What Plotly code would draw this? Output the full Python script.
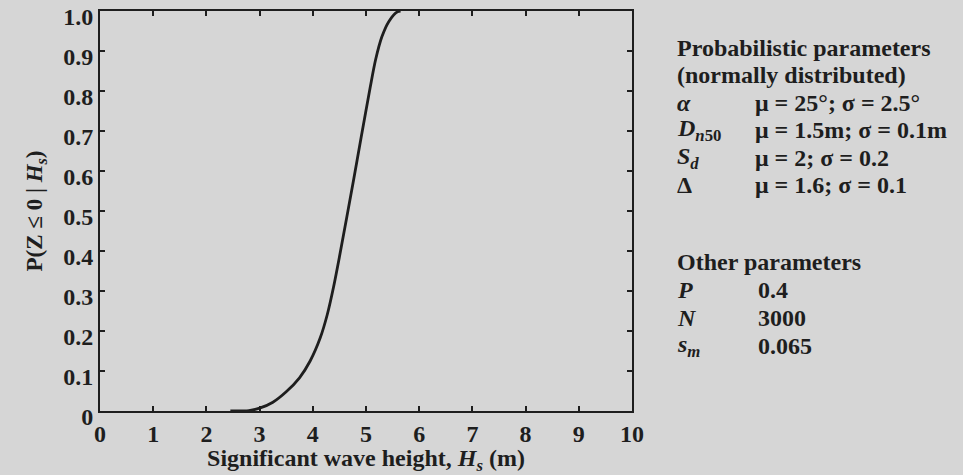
import plotly.graph_objects as go

# Fragility curve: probability of failure vs. significant wave height
wave_height_m = [2.45, 2.8, 3.0, 3.25, 3.5, 3.75, 3.95, 4.14, 4.27, 4.39, 4.5,
                 4.77, 4.91, 5.08, 5.18, 5.30, 5.43, 5.59, 5.65]
prob_failure = [0.0, 0.001, 0.007, 0.022, 0.048, 0.083, 0.125, 0.183, 0.24, 0.31, 0.385,
                0.58, 0.685, 0.81, 0.878, 0.936, 0.974, 0.998, 1.0]

x_ticks = list(range(0, 11))
y_ticks = [0, 0.1, 0.2, 0.3, 0.4, 0.5, 0.6, 0.7, 0.8, 0.9, 1.0]
y_tick_labels = ["0", "0.1", "0.2", "0.3", "0.4", "0.5", "0.6", "0.7", "0.8", "0.9", "1.0"]

# Parameter table shown beside the plot
prob_header = ["Probabilistic parameters", "(normally distributed)"]
prob_symbols = ["<i>α</i>", "<i>D</i><sub><i>n</i>50</sub>", "<i>S</i><sub><i>d</i></sub>", "Δ"]
prob_values = ["μ = 25°; σ = 2.5°", "μ = 1.5m; σ = 0.1m", "μ = 2; σ = 0.2", "μ = 1.6; σ = 0.1"]
other_header = ["Other parameters"]
other_symbols = ["<i>P</i>", "<i>N</i>", "<i>s</i><sub><i>m</i></sub>"]
other_values = ["0.4", "3000", "0.065"]

INK = "#1e1e1e"
PAPER = "#d6d6d6"
SERIF = "Liberation Serif, Times New Roman, serif"

fig = go.Figure()
fig.add_trace(go.Scatter(
    x=wave_height_m, y=prob_failure, mode="lines",
    line=dict(color=INK, width=2.8, shape="spline", smoothing=0.8),
    showlegend=False, hoverinfo="skip",
))

axis_common = dict(
    showline=True, linecolor=INK, linewidth=2, mirror="ticks",
    ticks="inside", ticklen=5, tickwidth=2, tickcolor=INK,
    showgrid=False, zeroline=False, automargin=False,
    tickfont=dict(family=SERIF, size=24, color=INK, weight="bold"),
)

fig.update_xaxes(
    range=[0, 10], tickvals=x_ticks, ticktext=[str(v) for v in x_ticks],
    title=dict(text="Significant wave height, <i>H</i><sub><i>s</i></sub> (m)",
               font=dict(family=SERIF, size=24, color=INK, weight="bold"), standoff=2),
    **axis_common,
)
fig.update_yaxes(
    range=[0, 1], tickvals=y_ticks, ticktext=y_tick_labels,
    ticklabelshift=6, ticklabeloverflow="allow",
    title=dict(text="P(Z ≤ 0 | <i>H</i><sub><i>s</i></sub>)",
               font=dict(family=SERIF, size=23, color=INK, weight="bold"), standoff=14),
    **axis_common,
)

# Place the side table rows in paper coordinates of the plot area
plot_left, plot_right, plot_top, plot_bottom = 100, 632, 11, 411


def px_to_paper_x(px):
    return (px - plot_left) / (plot_right - plot_left)


def px_to_paper_y(py):
    return (plot_bottom - py) / (plot_bottom - plot_top)


text_font = dict(family=SERIF, size=24, color=INK, weight="bold")
row_gap = 27.4
rows = []
y0 = 48
for t in prob_header:
    rows.append((t, None, y0))
    y0 += row_gap
for s, v in zip(prob_symbols, prob_values):
    rows.append((s, v, y0))
    y0 += row_gap
y0 = 262
for t in other_header:
    rows.append((t, None, y0))
    y0 += 28
for s, v in zip(other_symbols, other_values):
    rows.append((s, v, y0))
    y0 += 28

for label, value, py in rows:
    fig.add_annotation(x=px_to_paper_x(675), y=px_to_paper_y(py), xref="paper", yref="paper",
                       text=label, showarrow=False, xanchor="left", yanchor="middle",
                       font=text_font)
    if value is not None:
        vx = 753 if "μ" in value else 756
        fig.add_annotation(x=px_to_paper_x(vx), y=px_to_paper_y(py), xref="paper", yref="paper",
                           text=value, showarrow=False, xanchor="left", yanchor="middle",
                           font=text_font)

fig.update_layout(
    width=963, height=475,
    margin=dict(l=plot_left, r=963 - plot_right, t=plot_top, b=475 - plot_bottom),
    paper_bgcolor=PAPER, plot_bgcolor=PAPER,
)

fig.write_html("out.html")
